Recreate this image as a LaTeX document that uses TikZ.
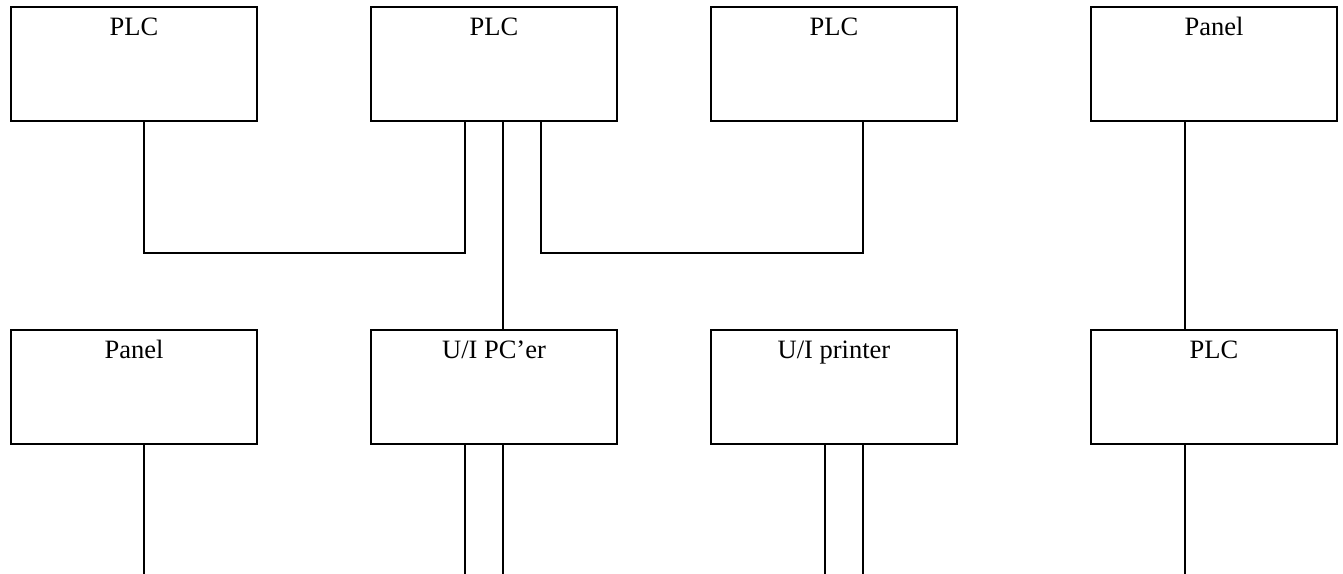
\documentclass[tikz,border=0pt]{standalone}
\usepackage{fontspec}
\setmainfont{Liberation Serif}
\usepackage{tikz}

\begin{document}
\begin{tikzpicture}[x=1pt, y=1pt, line width=2pt,
    unit/.style={draw, minimum width=246, minimum height=114, inner sep=0},
    tag/.style={anchor=north, inner sep=10.5, font=\fontsize{26.5}{30}\selectfont}]
    \useasboundingbox (0,0) rectangle (1343,573);

    % top row
    \node[unit, label={[tag]north:PLC}] (plcA) at (134,509) {};
    \node[unit, label={[tag]north:PLC}] (plcB) at (494,509) {};
    \node[unit, label={[tag]north:PLC}] (plcC) at (834,509) {};
    \node[unit, label={[tag]north:Panel}] (panelA) at (1214,509) {};

    % bottom row
    \node[unit, label={[tag]north:Panel}] (panelB) at (134,186) {};
    \node[unit, label={[tag]north:U/I PC’er}] (uipc) at (494,186) {};
    \node[unit, label={[tag]north:U/I printer}] (uiprinter) at (834,186) {};
    \node[unit, label={[tag]north:PLC}] (plcD) at (1214,186) {};

    \coordinate (busA) at (465,320);
    \coordinate (busB) at (863,320);

    \draw ([xshift=10]plcA.south) |- (busA) -- (plcB.south -| busA);
    \draw ([xshift=47]plcB.south) |- (busB) -- (plcC.south -| busB);
    \draw ([xshift=9]plcB.south) -- ([xshift=9]uipc.north);
    \draw ([xshift=-29]panelA.south) -- ([xshift=-29]plcD.north);

    % lines leaving the page
    \draw ([xshift=10]panelB.south) -- ++(0,-129);
    \draw ([xshift=-29]uipc.south) -- ++(0,-129);
    \draw ([xshift=9]uipc.south) -- ++(0,-129);
    \draw ([xshift=-9]uiprinter.south) -- ++(0,-129);
    \draw ([xshift=29]uiprinter.south) -- ++(0,-129);
    \draw ([xshift=-29]plcD.south) -- ++(0,-129);
\end{tikzpicture}
\end{document}
